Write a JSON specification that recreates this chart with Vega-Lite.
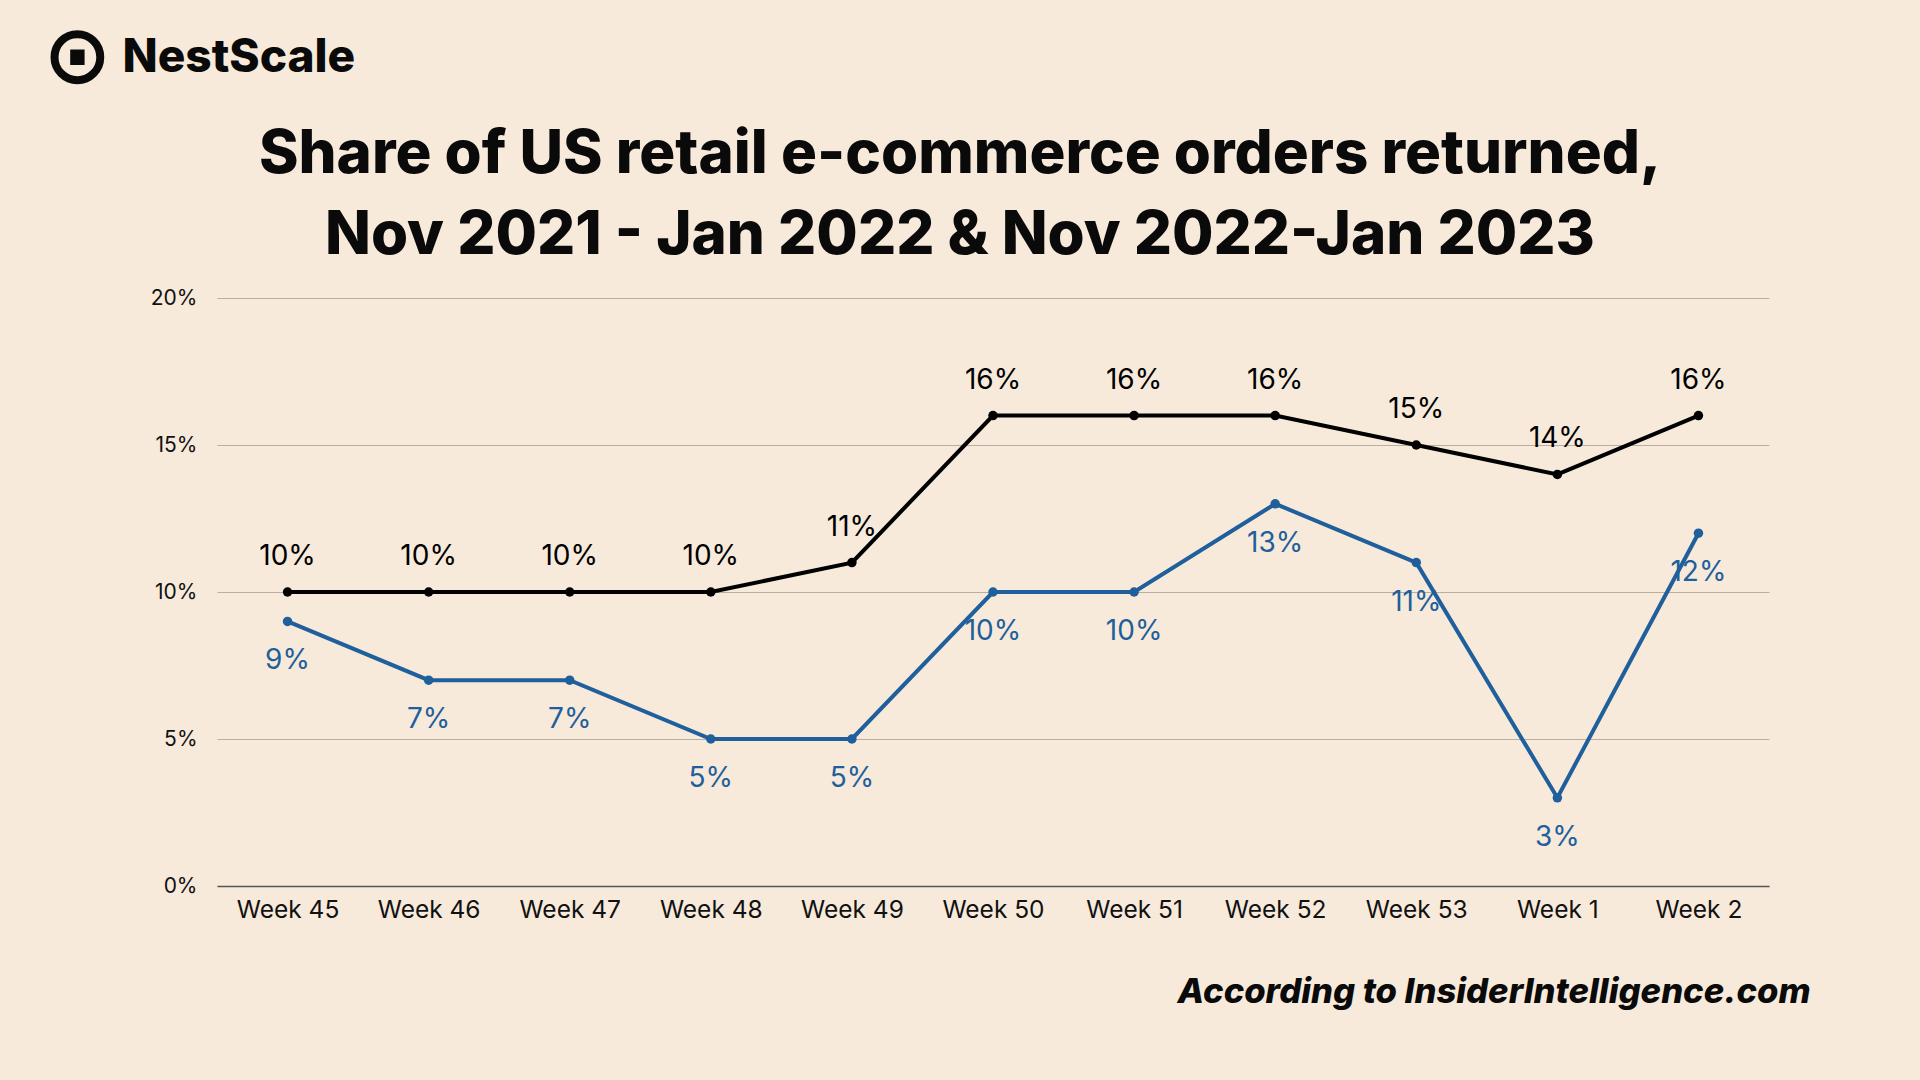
{
  "$schema": "https://vega.github.io/schema/vega-lite/v6.json",
  "autosize": {"type": "none"},
  "width": 1552,
  "height": 588,
  "padding": {"left": 217, "top": 298, "right": 151, "bottom": 194},
  "background": "#F7EADB",
  "config": {
    "view": {"stroke": null},
    "font": "Inter",
    "axis": {"labelFont": "Inter", "titleFont": "Inter"}
  },
  "title": {
    "text": ["Share of US retail e-commerce orders returned,", "Nov 2021 - Jan 2022 & Nov 2022-Jan 2023"],
    "font": "Inter",
    "fontSize": 60,
    "fontWeight": 800,
    "color": "#0A0A0A",
    "lineHeight": 81,
    "anchor": "middle",
    "frame": "group",
    "offset": 34,
    "dx": -33,
    "dy": 285
  },
  "resolve": {"axis": {"x": "independent"}},
  "data": {
    "values": [
      {"week": "Week 45", "series": "Nov 2022 - Jan 2023", "share": 0.10},
      {"week": "Week 46", "series": "Nov 2022 - Jan 2023", "share": 0.10},
      {"week": "Week 47", "series": "Nov 2022 - Jan 2023", "share": 0.10},
      {"week": "Week 48", "series": "Nov 2022 - Jan 2023", "share": 0.10},
      {"week": "Week 49", "series": "Nov 2022 - Jan 2023", "share": 0.11},
      {"week": "Week 50", "series": "Nov 2022 - Jan 2023", "share": 0.16},
      {"week": "Week 51", "series": "Nov 2022 - Jan 2023", "share": 0.16},
      {"week": "Week 52", "series": "Nov 2022 - Jan 2023", "share": 0.16},
      {"week": "Week 53", "series": "Nov 2022 - Jan 2023", "share": 0.15},
      {"week": "Week 1", "series": "Nov 2022 - Jan 2023", "share": 0.14},
      {"week": "Week 2", "series": "Nov 2022 - Jan 2023", "share": 0.16},
      {"week": "Week 45", "series": "Nov 2021 - Jan 2022", "share": 0.09},
      {"week": "Week 46", "series": "Nov 2021 - Jan 2022", "share": 0.07},
      {"week": "Week 47", "series": "Nov 2021 - Jan 2022", "share": 0.07},
      {"week": "Week 48", "series": "Nov 2021 - Jan 2022", "share": 0.05},
      {"week": "Week 49", "series": "Nov 2021 - Jan 2022", "share": 0.05},
      {"week": "Week 50", "series": "Nov 2021 - Jan 2022", "share": 0.10},
      {"week": "Week 51", "series": "Nov 2021 - Jan 2022", "share": 0.10},
      {"week": "Week 52", "series": "Nov 2021 - Jan 2022", "share": 0.13},
      {"week": "Week 53", "series": "Nov 2021 - Jan 2022", "share": 0.11},
      {"week": "Week 1", "series": "Nov 2021 - Jan 2022", "share": 0.03},
      {"week": "Week 2", "series": "Nov 2021 - Jan 2022", "share": 0.12}
    ]
  },
  "encoding": {
    "y": {
      "field": "share",
      "type": "quantitative",
      "scale": {"domain": [0, 0.2], "nice": false},
      "axis": {
        "title": "NestScale",
        "titleFontSize": 46,
        "titleFontWeight": 800,
        "titleColor": "#0A0A0A",
        "titleAngle": 0,
        "titleAlign": "left",
        "titleBaseline": "middle",
        "titleX": -95,
        "titleY": -241,
        "values": [0, 0.05, 0.1, 0.15, 0.2],
        "format": ".0%",
        "labelFontSize": 21,
        "labelColor": "#111111",
        "labelPadding": 20,
        "ticks": false,
        "domain": false,
        "grid": true,
        "gridColor": "#B9AEA2",
        "gridWidth": 1
      }
    },
    "color": {
      "field": "series",
      "type": "nominal",
      "scale": {"domain": ["Nov 2022 - Jan 2023", "Nov 2021 - Jan 2022"], "range": ["#000000", "#1F5F9B"]},
      "legend": null
    }
  },
  "layer": [
    {
      "mark": {"type": "line", "strokeWidth": 4, "point": {"filled": true, "size": 90}},
      "encoding": {
        "x": {
          "field": "week",
          "type": "nominal",
          "sort": null,
          "scale": {"type": "point", "padding": 0.5},
          "axis": {
            "title": "According to InsiderIntelligence.com",
            "titleFontSize": 34.6,
            "titleFontWeight": 800,
            "titleFontStyle": "italic",
            "titleColor": "#0A0A0A",
            "titleAngle": 0,
            "titleAlign": "right",
            "titleBaseline": "middle",
            "titleX": 1593,
            "titleY": 106,
            "labelAngle": 0,
            "labelFontSize": 24.5,
            "labelColor": "#111111",
            "labelPadding": 12,
            "ticks": false,
            "domainColor": "#555555",
            "domainWidth": 1.5,
            "grid": false
          }
        }
      }
    },
    {
      "transform": [{"filter": "datum.series == 'Nov 2022 - Jan 2023'"}],
      "mark": {"type": "text", "fontSize": 28, "dy": -35, "font": "Inter"},
      "encoding": {
        "x": {
          "field": "week",
          "type": "nominal",
          "sort": null,
          "scale": {"type": "point", "padding": 0.5},
          "axis": {
            "orient": "top",
            "title": "⊙",
            "titleFont": "DejaVu Sans",
            "titleFontSize": 82,
            "titleFontWeight": "bold",
            "titleColor": "#0A0A0A",
            "titleAngle": 0,
            "titleAlign": "center",
            "titleBaseline": "middle",
            "titleX": -140,
            "titleY": -241,
            "labels": false,
            "ticks": false,
            "domain": false,
            "grid": false
          }
        },
        "text": {"field": "share", "type": "quantitative", "format": ".0%"}
      }
    },
    {
      "transform": [{"filter": "datum.series == 'Nov 2021 - Jan 2022'"}],
      "mark": {"type": "text", "fontSize": 28, "dy": 40, "font": "Inter"},
      "encoding": {
        "x": {
          "field": "week",
          "type": "nominal",
          "sort": null,
          "scale": {"type": "point", "padding": 0.5},
          "axis": null
        },
        "text": {"field": "share", "type": "quantitative", "format": ".0%"}
      }
    }
  ]
}
